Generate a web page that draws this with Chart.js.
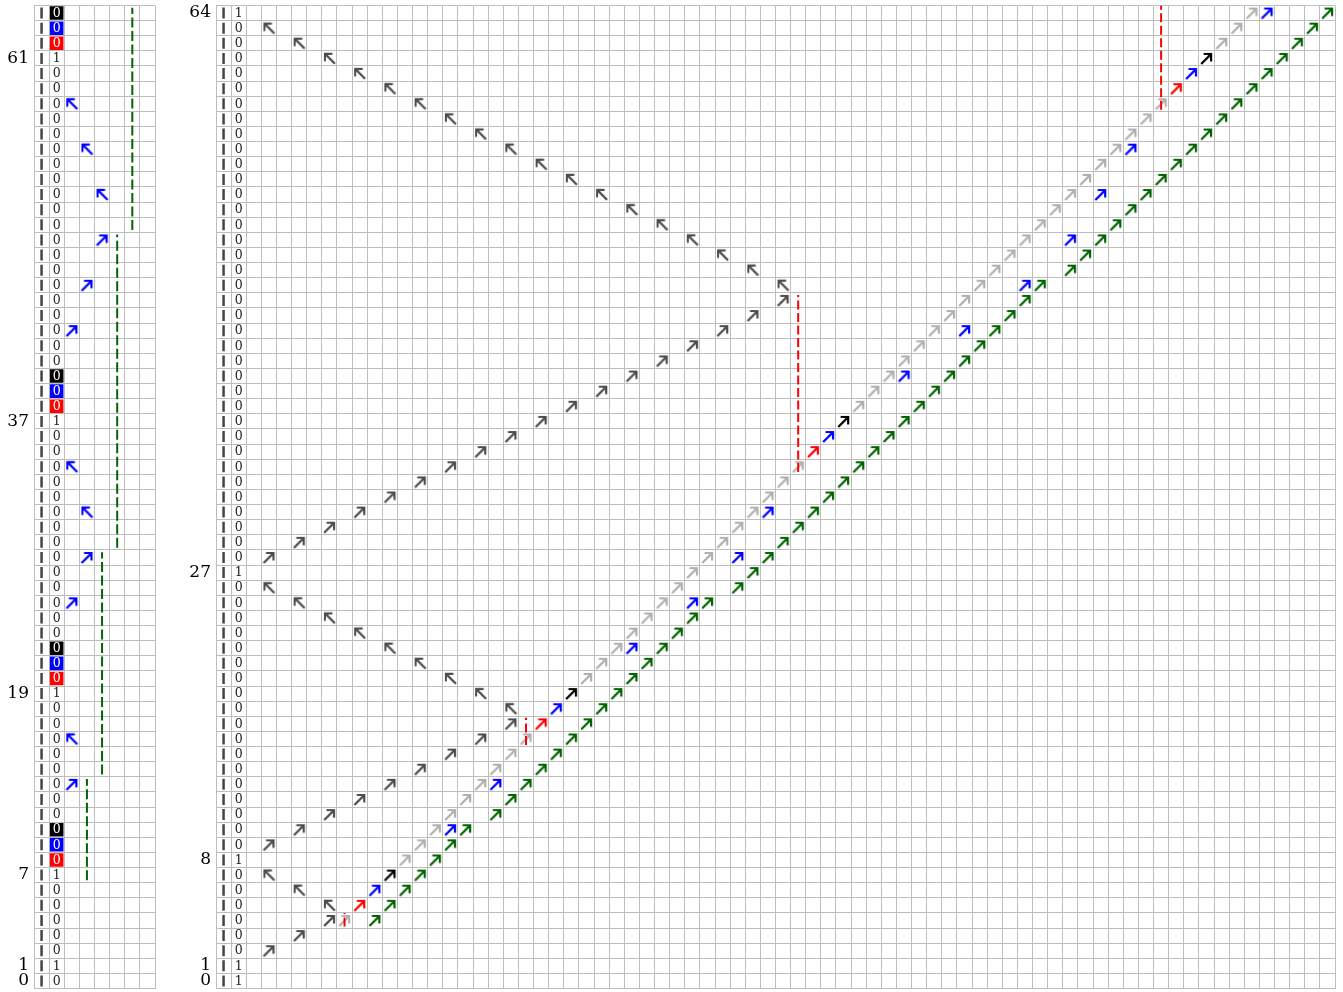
<!DOCTYPE html>
<html>
<head>
<meta charset="utf-8">
<script src="https://cdn.jsdelivr.net/npm/chart.js@4.4.1/dist/chart.umd.min.js"></script>
<style>
  html, body { margin: 0; padding: 0; background: #fff; }
  #wrap { position: relative; width: 1343px; height: 992px; }
  canvas { position: absolute; top: 0; }
  #left { left: 0; }
  #right { left: 160px; }
</style>
</head>
<body>
<div id="wrap">
  <canvas id="left" width="160" height="992"></canvas>
  <canvas id="right" width="1183" height="992"></canvas>
</div>
<script>
// ---- shared ----
const rowCount = 65;

// ---- left panel data ----
const leftCols = 8;
const leftLabelRows = [0, 1, 7, 19, 37, 61];
const leftDigits = [
  0, 1, 0, 0, 0, 0, 0, 1, 0, 0,
  0, 0, 0, 0, 0, 0, 0, 0, 0, 1,
  0, 0, 0, 0, 0, 0, 0, 0, 0, 0,
  0, 0, 0, 0, 0, 0, 0, 1, 0, 0,
  0, 0, 0, 0, 0, 0, 0, 0, 0, 0,
  0, 0, 0, 0, 0, 0, 0, 0, 0, 0,
  0, 1, 0, 0, 0
];
const leftRedRows = [8, 20, 38, 62];
const leftBlueRows = [9, 21, 39, 63];
const leftBlackRows = [10, 22, 40, 64];
// [col, row]
const leftBlueUp = [[2, 13], [2, 25], [3, 28], [2, 43], [3, 46], [4, 49]];
const leftBlueBack = [[2, 16], [3, 31], [2, 34], [4, 52], [3, 55], [2, 58]];
// [col, fromRow, toRow]
const leftGreenDash = [[3, 6.65, 13.35], [4, 13.65, 28.35], [5, 28.65, 49.35], [6, 49.65, 64.35]];

// ---- right panel data ----
const rightCols = 74;
const rightLabelRows = [0, 1, 8, 27, 64];
const rightDigits = [
  1, 1, 0, 0, 0, 0, 0, 0, 1, 0,
  0, 0, 0, 0, 0, 0, 0, 0, 0, 0,
  0, 0, 0, 0, 0, 0, 0, 1, 0, 0,
  0, 0, 0, 0, 0, 0, 0, 0, 0, 0,
  0, 0, 0, 0, 0, 0, 0, 0, 0, 0,
  0, 0, 0, 0, 0, 0, 0, 0, 0, 0,
  0, 0, 0, 0, 1
];
const darkUp = [
  [3, 2], [5, 3], [7, 4],
  [3, 9], [5, 10], [7, 11], [9, 12], [11, 13], [13, 14], [15, 15], [17, 16], [19, 17],
  [3, 28], [5, 29], [7, 30], [9, 31], [11, 32], [13, 33], [15, 34], [17, 35], [19, 36],
  [21, 37], [23, 38], [25, 39], [27, 40], [29, 41], [31, 42], [33, 43], [35, 44], [37, 45]
];
const darkBack = [
  [7, 5], [5, 6], [3, 7],
  [19, 18], [17, 19], [15, 20], [13, 21], [11, 22], [9, 23], [7, 24], [5, 25], [3, 26],
  [37, 46], [35, 47], [33, 48], [31, 49], [29, 50], [27, 51], [25, 52], [23, 53], [21, 54],
  [19, 55], [17, 56], [15, 57], [13, 58], [11, 59], [9, 60], [7, 61], [5, 62], [3, 63]
];
const grayUp = [
  [8, 4], [12, 8], [13, 9], [14, 10], [15, 11], [16, 12], [17, 13], [18, 14], [19, 15], [20, 16],
  [24, 20], [25, 21], [26, 22], [27, 23], [28, 24], [29, 25], [30, 26], [31, 27], [32, 28],
  [33, 29], [34, 30], [35, 31], [36, 32], [37, 33], [38, 34],
  [42, 38], [43, 39], [44, 40], [45, 41], [46, 42], [47, 43], [48, 44], [49, 45], [50, 46],
  [51, 47], [52, 48], [53, 49], [54, 50], [55, 51], [56, 52], [57, 53], [58, 54], [59, 55],
  [60, 56], [61, 57], [62, 58], [66, 62], [67, 63], [68, 64]
];
const redUp = [[9, 5], [21, 17], [39, 35], [63, 59]];
const blackUp = [[11, 7], [23, 19], [41, 37], [65, 61]];
const blueUp = [
  [10, 6], [22, 18], [40, 36], [64, 60],
  [15, 10], [18, 13], [27, 22], [31, 25], [34, 28], [36, 31], [45, 40], [49, 43],
  [53, 46], [56, 49], [58, 52], [60, 55], [69, 64]
];
const greenUp = [
  [10, 4], [11, 5], [12, 6], [13, 7], [14, 8], [15, 9], [16, 10],
  [18, 11], [19, 12], [20, 13], [21, 14], [22, 15], [23, 16], [24, 17], [25, 18], [26, 19],
  [27, 20], [28, 21], [29, 22], [30, 23], [31, 24], [32, 25],
  [34, 26], [35, 27], [36, 28], [37, 29], [38, 30], [39, 31], [40, 32], [41, 33], [42, 34],
  [43, 35], [44, 36], [45, 37], [46, 38], [47, 39], [48, 40], [49, 41], [50, 42], [51, 43],
  [52, 44], [53, 45], [54, 46],
  [56, 47], [57, 48], [58, 49], [59, 50], [60, 51], [61, 52], [62, 53], [63, 54], [64, 55],
  [65, 56], [66, 57], [67, 58], [68, 59], [69, 60], [70, 61], [71, 62], [72, 63], [73, 64]
];
const rightRedDash = [[8, 3.6, 4.5], [20, 15.6, 17.4], [38, 33.65, 45.35], [62, 57.6, 64.5]];

// ---- styles ----
const GRID = '#bdbdbd';
const DARK = '#4d4d4d';
const LIGHT = '#b0b0b0';
const GREEN = '#006400';
const SERIF = '"DejaVu Serif", "Liberation Serif", serif';

// small arrow picture used as point style (points up-right)
function arrowImg(color) {
  const c = document.createElement('canvas');
  c.width = 15; c.height = 15;
  const g = c.getContext('2d');
  g.strokeStyle = color;
  g.lineWidth = 2.2;
  g.lineJoin = 'miter';
  g.beginPath(); g.moveTo(2.2, 13); g.lineTo(11.6, 3.6); g.stroke();
  g.beginPath(); g.moveTo(4.6, 3); g.lineTo(12.1, 3); g.lineTo(12.1, 10.5); g.stroke();
  return c;
}

const pts = list => list.map(p => ({ x: p[0], y: p[1] }));

function arrows(list, color, back) {
  return {
    data: pts(list),
    pointStyle: arrowImg(color),
    pointRotation: back ? -90 : 0,
    pointRadius: 6,
    showLine: false
  };
}

function dashes(list, color, dash) {
  return list.map(s => ({
    type: 'line',
    data: [{ x: s[0], y: s[1] }, { x: s[0], y: s[2] }],
    borderColor: color,
    borderWidth: 2,
    borderDash: dash,
    pointRadius: 0,
    fill: false
  }));
}

function boxes(rowsList, color) {
  return {
    data: rowsList.map(r => ({ x: 1, y: r })),
    pointStyle: 'rect',
    pointRadius: 9.6,
    backgroundColor: color,
    borderWidth: 0,
    showLine: false
  };
}

function bars(digits) {
  return {
    data: digits.map((d, r) => ({ x: 0, y: r })),
    pointStyle: 'line',
    pointRotation: 90,
    pointRadius: 5.5,
    borderColor: '#444',
    borderWidth: 2.5,
    showLine: false
  };
}

// writes the digit column
const cellText = {
  id: 'cellText',
  afterDatasetsDraw(chart, args, opts) {
    const { ctx } = chart;
    const x = chart.scales.x, y = chart.scales.y;
    ctx.save();
    ctx.font = '12.5px ' + SERIF;
    ctx.textAlign = 'center';
    ctx.textBaseline = 'middle';
    opts.digits.forEach((d, r) => {
      ctx.fillStyle = opts.boxed.includes(r) ? '#fff' : '#222';
      ctx.fillText(String(d), x.getPixelForValue(1), y.getPixelForValue(r) + 0.5);
    });
    ctx.restore();
  }
};

function halfSteps(n) {
  const out = [];
  for (let i = 0; i <= n; i++) out.push(i - 0.5);
  return out;
}

function noPad(s) {
  s.paddingTop = 0; s.paddingBottom = 0; s.paddingLeft = 0; s.paddingRight = 0;
}

function makePanel(id, cols, labels, axisW, rightPad, datasets, digits, boxed) {
  const xTicks = halfSteps(cols);
  const yTicks = halfSteps(rowCount);
  return new Chart(document.getElementById(id), {
    type: 'scatter',
    data: { datasets: datasets },
    options: {
      responsive: false,
      animation: false,
      events: [],
      layout: { autoPadding: false, padding: { top: 5.5, bottom: 3.5, left: 0, right: rightPad } },
      plugins: {
        legend: { display: false },
        tooltip: { enabled: false },
        cellText: { digits: digits, boxed: boxed }
      },
      scales: {
        x: {
          type: 'linear', min: -0.5, max: cols - 0.5, position: 'bottom',
          afterBuildTicks: s => { s.ticks = xTicks.map(v => ({ value: v })); },
          afterFit: s => { s.height = 0; noPad(s); },
          ticks: { display: false },
          grid: { color: GRID, lineWidth: 1, drawTicks: false },
          border: { display: false }
        },
        y: {
          type: 'linear', min: -0.5, max: rowCount - 0.5, position: 'left',
          afterBuildTicks: s => { s.ticks = yTicks.map(v => ({ value: v })); },
          afterFit: s => { s.width = 0; noPad(s); },
          ticks: { display: false },
          grid: { color: GRID, lineWidth: 1, drawTicks: false },
          border: { display: false }
        },
        yl: {
          type: 'linear', min: -0.5, max: rowCount - 0.5, position: 'left',
          afterBuildTicks: s => { s.ticks = labels.map(v => ({ value: v })); },
          afterFit: s => { s.width = axisW; noPad(s); },
          ticks: { font: { family: SERIF, size: 17 }, color: '#000', padding: 5, autoSkip: false },
          grid: { display: false, drawTicks: false },
          border: { display: false }
        }
      }
    },
    plugins: [cellText]
  });
}

// left panel
makePanel('left', leftCols, leftLabelRows, 34, 5, [
  ...dashes(leftGreenDash, GREEN, [10, 3.5]),
  arrows(leftBlueUp, '#0000ff', false),
  arrows(leftBlueBack, '#0000ff', true),
  boxes(leftBlackRows, '#000'),
  boxes(leftBlueRows, '#0000ff'),
  boxes(leftRedRows, '#ff0000'),
  bars(leftDigits)
], leftDigits, [...leftBlackRows, ...leftBlueRows, ...leftRedRows]);

// right panel
makePanel('right', rightCols, rightLabelRows, 56, 8, [
  ...dashes(rightRedDash, '#ff0000', [9, 3.5]),
  arrows(redUp, '#ff0000', false),
  arrows(blackUp, '#000000', false),
  arrows(blueUp, '#0000ff', false),
  arrows(greenUp, GREEN, false),
  arrows(grayUp, LIGHT, false),
  arrows(darkUp, DARK, false),
  arrows(darkBack, DARK, true),
  bars(rightDigits)
], rightDigits, []);
</script>
</body>
</html>
